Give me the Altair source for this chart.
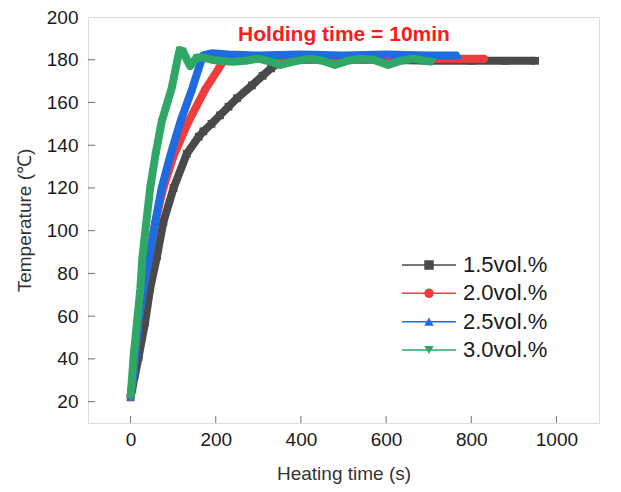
import altair as alt
import pandas as pd

series_names = ["1.5vol.%", "2.0vol.%", "2.5vol.%", "3.0vol.%"]
series_colors = ["#4a4a4a", "#f03c3c", "#1f6be0", "#2fa866"]
series_shapes = ["square", "circle", "triangle-up", "triangle-down"]

# 1.5 vol.%
time_15 = [0, 4, 19, 34, 46, 62, 77, 101, 132, 160, 171, 190, 210, 230, 250, 285, 310, 330, 350, 380,
           450, 500, 600, 700, 800, 880, 950]
temp_15 = [22, 26, 41, 57, 73, 88, 104, 120, 136, 144, 146.5, 150, 154, 158, 162, 168, 172.5, 176, 179, 180,
           180, 180, 180, 179.5, 179.5, 179.5, 179.5]
# 2.0 vol.%
time_20 = [0, 5, 10, 18, 30, 44, 58, 77, 101, 136, 175, 207, 220, 240, 260, 300,
           400, 500, 600, 700, 770, 830]
temp_20 = [22, 30, 40, 57, 73, 88, 104, 120, 135, 151, 166, 176, 180, 181.5, 181.5, 181,
           180.5, 180.5, 180.5, 180.5, 180.5, 180.5]
# 2.5 vol.%
time_25 = [0, 5, 10, 18, 30, 44, 58, 73, 93, 117, 144, 160, 170, 190, 230, 300, 400,
           500, 600, 700, 770]
temp_25 = [22, 30, 40, 57, 73, 88, 104, 120, 135, 151, 166, 176, 182, 183, 182.5, 182, 182.5,
           182, 182.5, 182, 182]
# 3.0 vol.%
time_30 = [0, 3, 7, 15, 23, 28, 37, 46, 58, 73, 97, 108, 115, 123, 130, 140, 155, 170, 190, 210, 240,
           270, 300, 330, 350, 380, 420, 450, 480, 510, 540, 570, 605, 635, 665, 690, 710]
temp_30 = [22, 30, 41, 57, 73, 88, 104, 120, 135, 151, 167, 178, 184.5, 184, 181, 177, 181, 181, 180, 179.5, 179,
           179.5, 180.5, 179, 177.5, 179, 180.5, 179.5, 177.5, 179.5, 180.5, 180, 177.5, 179.5, 180.5, 179.5, 179]

x_ticks = [0, 200, 400, 600, 800, 1000]
y_ticks = [20, 40, 60, 80, 100, 120, 140, 160, 180]
y_labels = [20, 40, 60, 80, 100, 120, 140, 160, 180, 200]

title_text = "Holding time = 10min"

W, H = 511, 406
FONT = "Liberation Sans"

series_data = [(time_15, temp_15), (time_20, temp_20), (time_25, temp_25), (time_30, temp_30)]

x_scale = alt.Scale(domain=[-100, 1100], nice=False, zero=False)
y_scale = alt.Scale(domain=[10, 200], nice=False, zero=False)

x_axis = alt.Axis(values=x_ticks, format="d", title="Heating time (s)", grid=False, tickSize=0, domain=False,
                  labelPadding=7, titlePadding=15, labelFontSize=19, titleFontSize=19,
                  labelFont=FONT, titleFont=FONT, titleFontWeight="normal",
                  labelColor="#1a1a1a", titleColor="#333333", labelFlush=False)
y_axis = alt.Axis(values=y_labels, format="d", title="Temperature (℃)", grid=False, tickSize=0, domain=False,
                  labelPadding=10, titlePadding=12, labelFontSize=19, titleFontSize=19,
                  labelFont=FONT, titleFont=FONT, titleFontWeight="normal",
                  labelColor="#1a1a1a", titleColor="#333333", labelFlush=False)

X = alt.X("time:Q", scale=x_scale, axis=x_axis)

layers = []
for i, (name, (tt, vv)) in enumerate(zip(series_names, series_data)):
    df = pd.DataFrame({"time": tt, "temp": vv, "series": name})
    axis = y_axis if i == 0 else None
    line = alt.Chart(df).mark_line(color=series_colors[i], strokeWidth=8, strokeJoin="round").encode(
        x=X, y=alt.Y("temp:Q", scale=y_scale, axis=axis))
    pts = alt.Chart(df).mark_point(filled=True, color=series_colors[i], size=60, opacity=1,
                                   shape=series_shapes[i]).encode(
        x=X, y=alt.Y("temp:Q", scale=y_scale, axis=None))
    layers += [line, pts]

# inward ticks
ytick_df = pd.DataFrame({"temp": y_ticks})
xtick_df = pd.DataFrame({"time": x_ticks})
ytick = alt.Chart(ytick_df).mark_tick(orient="horizontal", size=7, thickness=1, color="#333333").encode(
    y=alt.Y("temp:Q", scale=y_scale, axis=None), x=alt.value(3.5))
xtick = alt.Chart(xtick_df).mark_tick(orient="vertical", size=7, thickness=1, color="#333333").encode(
    x=X, y=alt.value(H - 3.5))
layers += [ytick, xtick]

# annotation
title_df = pd.DataFrame({"label": [title_text]})
title_layer = alt.Chart(title_df).mark_text(font=FONT, fontSize=21, fontWeight="bold", color="#ff1a1a",
                                            align="center", baseline="middle").encode(
    x=alt.value(256), y=alt.value(18), text="label:N")
layers.append(title_layer)

# legend
leg_df = pd.DataFrame({"series": series_names})
leg_y = alt.Y("series:N", scale=alt.Scale(type="point", domain=series_names, range=[248, 333], padding=0),
              axis=None)
leg_color = alt.Color("series:N", scale=alt.Scale(domain=series_names, range=series_colors), legend=None)
leg_rule = alt.Chart(leg_df).mark_rule(strokeWidth=1.5).encode(
    x=alt.value(314), x2=alt.value(368), y=leg_y, color=leg_color)
leg_pt = alt.Chart(leg_df).mark_point(filled=True, size=90, opacity=1).encode(
    x=alt.value(341), y=leg_y, color=leg_color,
    shape=alt.Shape("series:N", scale=alt.Scale(domain=series_names, range=series_shapes), legend=None))
leg_txt = alt.Chart(leg_df).mark_text(font=FONT, fontSize=22, align="left", baseline="middle",
                                      color="#1a1a1a").encode(
    x=alt.value(375), y=leg_y, text="series:N")
layers += [leg_rule, leg_pt, leg_txt]

chart = alt.layer(*layers).resolve_scale(y="independent").properties(
    width=W, height=H,
    padding={"left": 7, "top": 0, "right": 3, "bottom": 5},
).configure_view(stroke="#333333", strokeWidth=1.2).configure(background="white")

chart.save("out.html", embed_options={"renderer": "svg", "actions": False})
